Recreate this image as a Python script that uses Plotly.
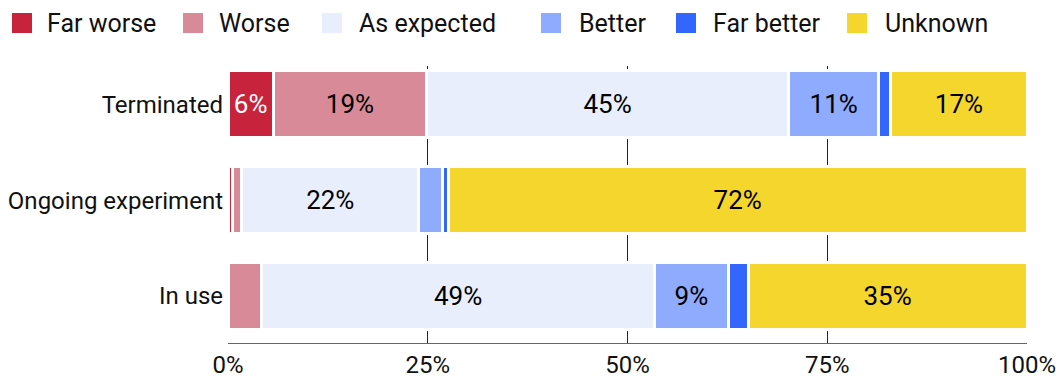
import plotly.graph_objects as go

# Outcome categories (stacked left to right) and their colours
outcomes = ["Far worse", "Worse", "As expected", "Better", "Far better", "Unknown"]
colors = ["#C8233C", "#D98A99", "#E8EEFC", "#8FABFD", "#3366FF", "#F5D62D"]
text_colors = ["#FFFFFF", "#000000", "#000000", "#000000", "#000000", "#000000"]

# Project status groups, top to bottom
statuses = ["Terminated", "Ongoing experiment", "In use"]

# Share of projects (%) per outcome, one value per status
far_worse = [5.66, 0.6, 0.0]
worse = [19.2, 1.1, 4.2]
as_expected = [45.3, 22.2, 49.2]
better = [11.3, 3.0, 9.2]
far_better = [1.5, 0.7, 2.5]
unknown = [17.04, 72.4, 34.9]

series = [far_worse, worse, as_expected, better, far_better, unknown]

# Axis ticks
x_ticks = [0, 25, 50, 75, 100]
x_tick_labels = ["0%", "25%", "50%", "75%", "100%"]

FONT = "Roboto"
FS = 24

fig = go.Figure()
for name, vals, col, tcol in zip(outcomes, series, colors, text_colors):
    labels = [f"{round(v)}%" if v >= 5 else "" for v in vals]
    fig.add_trace(go.Bar(
        name=name,
        y=statuses,
        x=vals,
        orientation="h",
        marker=dict(color=col, line=dict(color="#FFFFFF", width=3)),
        text=labels,
        textposition="inside",
        insidetextanchor="middle",
        constraintext="none",
        textangle=0,
        textfont=dict(family=FONT, size=26, color=tcol),
        hoverinfo="skip",
        showlegend=False,
    ))

# Plot area geometry in pixels
W, H = 1061, 376
L, R, T, B = 228, 34, 66, 33
pw, ph = W - L - R, H - T - B


def px_x(px):
    return (px - L) / pw


def px_y(py):
    return (H - B - py) / ph


# Legend row drawn as squares and labels
legend_sq_x = [12, 183, 322, 541, 676, 847]
legend_txt_x = [45, 217, 357, 577, 711, 883]
shapes = []
annotations = []
for name, col, sx, tx in zip(outcomes, colors, legend_sq_x, legend_txt_x):
    shapes.append(dict(
        type="rect", xref="paper", yref="paper",
        x0=px_x(sx), x1=px_x(sx + 20), y0=px_y(33), y1=px_y(13),
        fillcolor=col, line=dict(width=0), layer="above",
    ))
    annotations.append(dict(
        xref="paper", yref="paper", x=px_x(tx), y=px_y(23),
        xanchor="left", yanchor="middle", text=name, showarrow=False,
        font=dict(family=FONT, size=25, color="#111111"),
    ))

fig.update_layout(
    barmode="stack",
    bargap=0.30,
    width=W, height=H,
    margin=dict(l=L, r=R, t=T, b=B, pad=0, autoexpand=False),
    paper_bgcolor="white",
    plot_bgcolor="white",
    font=dict(family=FONT, size=FS, color="#111111"),
    shapes=shapes,
    annotations=annotations,
    xaxis=dict(
        range=[0, 100],
        tickvals=x_ticks,
        ticktext=x_tick_labels,
        showgrid=True,
        gridcolor="#222222",
        gridwidth=1,
        zeroline=False,
        showline=True,
        linecolor="#666666",
        linewidth=1,
        ticks="",
        automargin=False,
        tickfont=dict(family=FONT, size=FS, color="#111111"),
        fixedrange=True,
    ),
    yaxis=dict(
        type="category",
        categoryorder="array",
        categoryarray=statuses,
        range=[2.49, -0.4],
        showgrid=False,
        zeroline=False,
        showline=False,
        ticks="",
        automargin=False,
        ticklabelstandoff=4,
        tickfont=dict(family=FONT, size=FS, color="#111111"),
        fixedrange=True,
    ),
)

fig.write_html("out.html")
